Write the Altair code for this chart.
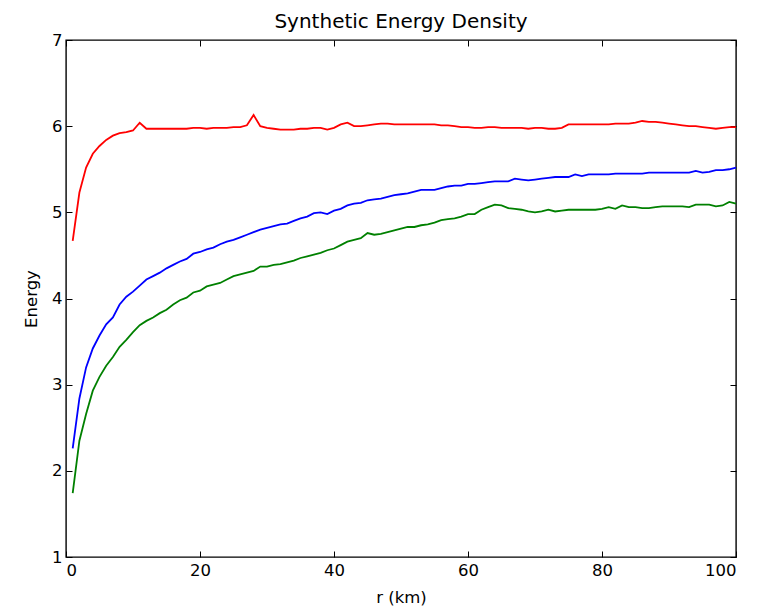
import altair as alt
import pandas as pd

r_km = list(range(1, 101))

red = [4.67, 5.23, 5.52, 5.68, 5.77, 5.84, 5.89, 5.92, 5.93, 5.95,
       6.04, 5.97, 5.97, 5.97, 5.97, 5.97, 5.97, 5.97, 5.98, 5.98,
       5.97, 5.98, 5.98, 5.98, 5.99, 5.99, 6.01, 6.13, 6.00, 5.98,
       5.97, 5.96, 5.96, 5.96, 5.97, 5.97, 5.98, 5.98, 5.96, 5.98,
       6.02, 6.04, 6.00, 6.00, 6.01, 6.02, 6.03, 6.03, 6.02, 6.02,
       6.02, 6.02, 6.02, 6.02, 6.02, 6.01, 6.01, 6.00, 5.99, 5.99,
       5.98, 5.98, 5.99, 5.99, 5.98, 5.98, 5.98, 5.98, 5.97, 5.98,
       5.98, 5.97, 5.97, 5.98, 6.02, 6.02, 6.02, 6.02, 6.02, 6.02,
       6.02, 6.03, 6.03, 6.03, 6.04, 6.06, 6.05, 6.05, 6.04, 6.03,
       6.02, 6.01, 6.00, 6.00, 5.99, 5.98, 5.97, 5.98, 5.99, 5.99]

blue = [2.26, 2.84, 3.20, 3.42, 3.57, 3.70, 3.78, 3.93, 4.02, 4.08,
        4.15, 4.22, 4.26, 4.30, 4.35, 4.39, 4.43, 4.46, 4.52, 4.54,
        4.57, 4.59, 4.63, 4.66, 4.68, 4.71, 4.74, 4.77, 4.80, 4.82,
        4.84, 4.86, 4.87, 4.90, 4.93, 4.95, 4.99, 5.00, 4.98, 5.02,
        5.04, 5.08, 5.10, 5.11, 5.14, 5.15, 5.16, 5.18, 5.20, 5.21,
        5.22, 5.24, 5.26, 5.26, 5.26, 5.28, 5.30, 5.31, 5.31, 5.33,
        5.33, 5.34, 5.35, 5.36, 5.36, 5.36, 5.39, 5.38, 5.37, 5.38,
        5.39, 5.40, 5.41, 5.41, 5.41, 5.44, 5.42, 5.44, 5.44, 5.44,
        5.44, 5.45, 5.45, 5.45, 5.45, 5.45, 5.46, 5.46, 5.46, 5.46,
        5.46, 5.46, 5.46, 5.48, 5.46, 5.47, 5.49, 5.49, 5.50, 5.52]

green = [1.74, 2.35, 2.66, 2.93, 3.09, 3.22, 3.32, 3.44, 3.52, 3.61,
         3.69, 3.74, 3.78, 3.83, 3.87, 3.93, 3.98, 4.01, 4.07, 4.09,
         4.14, 4.16, 4.18, 4.22, 4.26, 4.28, 4.30, 4.32, 4.37, 4.37,
         4.39, 4.40, 4.42, 4.44, 4.47, 4.49, 4.51, 4.53, 4.56, 4.58,
         4.62, 4.66, 4.68, 4.70, 4.76, 4.74, 4.75, 4.77, 4.79, 4.81,
         4.83, 4.83, 4.85, 4.86, 4.88, 4.91, 4.92, 4.93, 4.95, 4.98,
         4.98, 5.03, 5.06, 5.09, 5.08, 5.05, 5.04, 5.03, 5.01, 5.00,
         5.01, 5.03, 5.01, 5.02, 5.03, 5.03, 5.03, 5.03, 5.03, 5.04,
         5.06, 5.04, 5.08, 5.06, 5.06, 5.05, 5.05, 5.06, 5.07, 5.07,
         5.07, 5.07, 5.06, 5.09, 5.09, 5.09, 5.07, 5.08, 5.12, 5.10]

series_names = ["red", "blue", "green"]
series_colors = ["#ff0000", "#0000ff", "#008000"]
x_ticks = [0, 20, 40, 60, 80, 100]
y_ticks = [1, 2, 3, 4, 5, 6, 7]

rows = []
for name, vals in zip(series_names, [red, blue, green]):
    for xv, yv in zip(r_km, vals):
        rows.append({"r": xv, "energy": yv, "series": name})
df = pd.DataFrame(rows)

FONT = "DejaVu Sans"
TICK = 6

xscale = alt.Scale(domain=[0, 100], nice=False, zero=False)
yscale = alt.Scale(domain=[1, 7], nice=False, zero=False)
cscale = alt.Scale(domain=series_names, range=series_colors)

base = alt.Chart(df)

main = base.mark_line(strokeWidth=1.8).encode(
    x=alt.X("r:Q", scale=xscale, title="r (km)",
            axis=alt.Axis(orient="bottom", values=x_ticks, offset=-TICK, tickSize=TICK,
                          domain=False, grid=False, labelPadding=5, tickColor="black",
                          labelColor="black", labelFont=FONT, labelFontSize=16.5,
                          titleFont=FONT, titleFontSize=16.5, titleFontWeight="normal",
                          titleColor="black", titlePadding=11, tickWidth=1)),
    y=alt.Y("energy:Q", scale=yscale, title="Energy",
            axis=alt.Axis(orient="left", values=y_ticks, offset=-TICK, tickSize=TICK,
                          domain=False, grid=False, labelPadding=4, tickColor="black",
                          labelColor="black", labelFont=FONT, labelFontSize=16.5,
                          titleFont=FONT, titleFontSize=16.5, titleFontWeight="normal",
                          titleColor="black", titlePadding=12, tickWidth=1)),
    color=alt.Color("series:N", scale=cscale, legend=None),
    detail="series:N",
)

mirror = base.mark_line(strokeOpacity=0).encode(
    x=alt.X("r:Q", scale=xscale, title=None,
            axis=alt.Axis(orient="top", values=x_ticks, offset=-TICK, tickSize=TICK,
                          domain=False, grid=False, labels=False, tickColor="black",
                          tickWidth=1)),
    y=alt.Y("energy:Q", scale=yscale, title=None,
            axis=alt.Axis(orient="right", values=y_ticks, offset=-TICK, tickSize=TICK,
                          domain=False, grid=False, labels=False, tickColor="black",
                          tickWidth=1)),
    detail="series:N",
)

chart = alt.layer(main, mirror).resolve_axis(
    x="independent", y="independent"
).properties(
    width=670,
    height=517,
    background="white",
    title=alt.TitleParams("Synthetic Energy Density", font=FONT, fontSize=20,
                          fontWeight="normal", color="black", anchor="middle", offset=0),
    autosize=alt.AutoSizeParams(type="none"),
    padding={"left": 58, "top": 32, "right": 15, "bottom": 52},
).configure_view(
    stroke="black", strokeWidth=1.4
)

chart.save("out.html", embed_options={"renderer": "svg", "actions": False})
